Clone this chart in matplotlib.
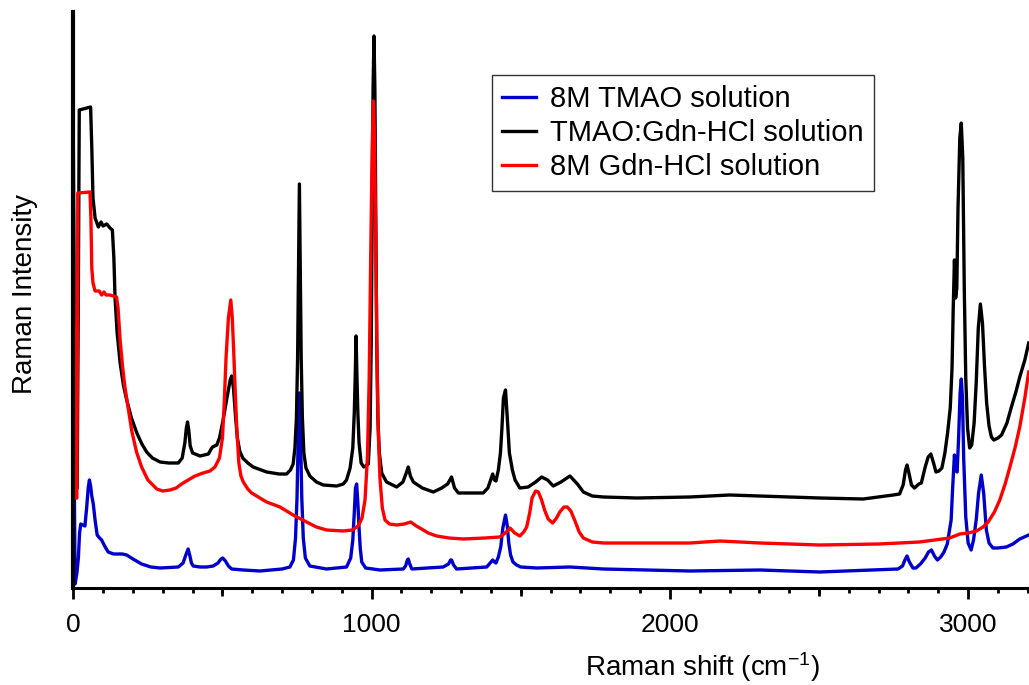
import matplotlib
matplotlib.use("Agg")
import matplotlib.pyplot as plt
from matplotlib.ticker import FixedLocator, MultipleLocator, NullFormatter

plt.rcParams['font.family'] = ['Liberation Sans', 'DejaVu Sans']
plt.rcParams['mathtext.default'] = 'regular'

# 8M TMAO solution (blue)
tmao_x = [0, 3, 6, 12, 17, 21, 25, 32, 39, 45, 50, 54, 58, 62, 67, 73, 80, 88, 95, 105, 117, 135,
          151, 165, 179, 200, 229, 260, 291, 352, 368, 376, 385, 391, 396, 402, 425, 447, 469, 485,
          495, 501, 510, 520, 531, 570, 626, 700, 726, 738, 745, 750, 754, 758, 762, 766, 771, 778,
          793, 849, 916, 930, 937, 942, 946, 950, 954, 958, 962, 967, 980, 1028, 1106, 1114, 1120,
          1123, 1128, 1135, 1240, 1258, 1265, 1268, 1275, 1285, 1386, 1400, 1406, 1412, 1417, 1425,
          1433, 1440, 1449, 1455, 1460, 1466, 1474, 1486, 1500, 1553, 1665, 1777, 2067, 2302, 2502,
          2765, 2780, 2788, 2795, 2803, 2815, 2825, 2840, 2856, 2867, 2877, 2887, 2897, 2908, 2919,
          2930, 2943, 2948, 2954, 2958, 2963, 2968, 2973, 2977, 2981, 2985, 2992, 3000, 3010, 3018,
          3027, 3035, 3044, 3052, 3061, 3070, 3083, 3100, 3128, 3150, 3173, 3203]
tmao_y = [299, 120, 4, 15, 30, 55, 64, 63, 62, 81, 100, 108, 102, 92, 84, 68, 53, 50, 48, 42, 36, 34,
          34, 34, 33, 29, 24, 21, 20, 21, 25, 32, 39, 32, 25, 22, 21, 21, 22, 25,
          29, 30, 27, 22, 19, 18, 17, 19, 21, 28, 50, 90, 150, 195, 150, 90, 50, 30,
          22, 19, 21, 30, 48, 75, 100, 104, 85, 60, 40, 26, 20, 18, 19, 22, 28,
          29, 24, 19, 21, 24, 28, 28, 23, 19, 21, 26, 28, 26, 25, 31,
          41, 60, 73, 62, 45, 33, 26, 23, 21, 20, 21, 19, 17, 18, 16,
          19, 22, 28, 32, 26, 20, 20, 24, 30, 36, 38, 32, 28, 31, 36,
          44, 68, 100, 133, 118, 116, 150, 195, 209, 190, 130, 71, 45, 38, 48,
          68, 95, 113, 95, 58, 45, 40, 40, 41, 44, 49, 53]

# TMAO:Gdn-HCl solution (black)
mix_x = [0, 3, 5, 13, 17, 20, 58, 62, 66, 73, 84, 93, 100, 112, 123, 131, 136, 140, 147, 157, 168,
         179, 195, 213, 230, 246, 265, 291, 320, 352, 365, 374, 379, 383, 387, 392, 400, 425, 453,
         462, 467, 481, 490, 501, 515, 526, 531, 537, 543, 550, 558, 568, 585, 603, 648, 690, 715,
         728, 737, 743, 748, 752, 755, 758, 761, 764, 768, 773, 780, 793, 815, 838, 883, 905, 916,
         928, 937, 942, 945, 948, 951, 954, 958, 965, 974, 980, 989, 995, 999, 1002, 1005, 1008,
         1011, 1014, 1017, 1021, 1026, 1034, 1050, 1084, 1105, 1115, 1123, 1130, 1140, 1170, 1207,
         1235, 1255, 1268, 1278, 1291, 1374, 1390, 1397, 1406, 1412, 1417, 1425, 1432, 1437, 1442,
         1449, 1455, 1462, 1472, 1481, 1497, 1525, 1550, 1570, 1590, 1609, 1635, 1665, 1690, 1710,
         1740, 1777, 1889, 2067, 2200, 2302, 2502, 2648, 2749, 2770, 2782, 2790, 2795, 2800, 2810,
         2820, 2835, 2843, 2856, 2866, 2875, 2884, 2892, 2902, 2912, 2922, 2931, 2940, 2946, 2950,
         2954, 2958, 2962, 2966, 2972, 2977, 2982, 2987, 2992, 2998, 3005, 3012, 3020, 3027, 3034,
         3041, 3048, 3055, 3062, 3070, 3078, 3086, 3100, 3112, 3130, 3145, 3160, 3173, 3190, 3203]
mix_y = [450, 300, 100, 100, 300, 478, 481, 440, 390, 370, 361, 366, 362, 364, 360, 358, 330, 290, 255, 225, 203,
         188, 170, 155, 144, 136, 130, 126, 125, 125, 130, 145, 160, 166, 158, 142, 135, 132, 134,
         139, 141, 143, 150, 166, 190, 208, 212, 200, 175, 150, 137, 130, 125, 121, 116, 114, 114,
         118, 124, 140, 170, 230, 320, 404, 320, 230, 170, 135, 120, 112, 106, 103, 102, 104, 108,
         120, 140, 175, 210, 252, 210, 175, 145, 125, 121, 122, 124, 160, 250, 370, 500, 552,
         500, 370, 250, 170, 135, 115, 106, 101, 106, 114, 121, 112, 106, 100, 96,
         100, 104, 111, 100, 95, 95, 100, 106, 114, 108, 107, 118, 135, 160, 190,
         198, 170, 135, 118, 108, 100, 101, 106, 111, 108, 102, 106, 112, 104, 96,
         92, 91, 90, 91, 93, 92, 90, 89, 93, 94, 103, 118, 123, 117, 103,
         100, 104, 105, 121, 131, 134, 125, 116, 117, 120, 135, 155, 180, 220, 280,
         328, 290, 300, 380, 450, 465, 430, 300, 210, 160, 140, 143, 165, 205, 260,
         284, 265, 221, 185, 162, 151, 148, 150, 153, 165, 181, 196, 211, 228, 245]

# 8M Gdn-HCl solution (red)
gdn_x = [0, 3, 5, 12, 14, 15, 56, 59, 62, 66, 73, 87, 95, 103, 110, 123, 145, 150, 157, 165, 173,
         185, 196, 212, 229, 250, 280, 300, 324, 345, 363, 385, 408, 435, 458, 475, 490, 500, 506,
         512, 520, 528, 533, 538, 543, 548, 555, 562, 570, 585, 598, 620, 648, 693, 737, 782, 815,
         849, 905, 935, 955, 968, 978, 986, 992, 997, 1002, 1006, 1010, 1014, 1018, 1022, 1028,
         1036, 1045, 1060, 1084, 1110, 1131, 1150, 1162, 1190, 1218, 1260, 1307, 1380, 1430, 1448,
         1464, 1480, 1497, 1510, 1520, 1530, 1538, 1550, 1559, 1570, 1580, 1592, 1607, 1620, 1631,
         1645, 1656, 1668, 1682, 1696, 1710, 1740, 1777, 2067, 2168, 2302, 2502, 2700, 2837, 2938,
         2972, 3000, 3028, 3050, 3067, 3088, 3106, 3124, 3140, 3157, 3173, 3190, 3203]
gdn_y = [391, 250, 90, 90, 250, 395, 396, 370, 320, 305, 297, 297, 293, 296, 293, 293, 291, 280, 248, 222, 201,
         178, 157, 136, 121, 108, 99, 97, 98, 100, 104, 108, 112, 115, 117, 121, 130, 150, 185,
         230, 270, 288, 270, 235, 195, 160, 125, 112, 106, 99, 95, 91, 86, 81, 73, 66, 61,
         58, 57, 58, 62, 70, 88, 130, 210, 330, 440, 487, 450, 340, 240, 160, 110,
         80, 68, 64, 63, 64, 66, 62, 60, 55, 52, 50, 49, 50, 51, 55,
         60, 55, 52, 56, 61, 75, 90, 97, 96, 88, 78, 69, 65, 70, 76,
         81, 81, 77, 67, 56, 50, 46, 45, 45, 47, 45, 43, 44, 46, 50,
         54, 55, 57, 61, 66, 76, 88, 104, 121, 140, 161, 190, 216]

fig = plt.figure(figsize=(10.29, 6.85), dpi=100)
ax = fig.add_axes([73.3 / 1029, 97 / 685, 955.7 / 1029, 576 / 685])

ax.plot(tmao_x, tmao_y, color='#0000CC', lw=2.4, label='8M TMAO solution')
ax.plot(mix_x, mix_y, color='black', lw=2.4, label='TMAO:Gdn-HCl solution')
ax.plot(gdn_x, gdn_y, color='#FF0000', lw=2.4, label='8M Gdn-HCl solution')

ax.set_xlim(0, 3204)
ax.set_ylim(0, 576)

ax.spines['top'].set_visible(False)
ax.spines['right'].set_visible(False)
ax.spines['left'].set_linewidth(3)
ax.spines['bottom'].set_linewidth(2.2)

ax.set_yticks([])
ax.xaxis.set_major_locator(FixedLocator([0, 1000, 2000, 3000]))
ax.xaxis.set_minor_locator(MultipleLocator(100))
ax.tick_params(axis='x', which='major', length=8, width=2, labelsize=19, pad=10)
ax.tick_params(axis='x', which='minor', length=3.8, width=2)

# mid ticks at the 500s
sec = ax.secondary_xaxis('bottom')
sec.set_xticks([500, 1500, 2500])
sec.xaxis.set_major_formatter(NullFormatter())
sec.tick_params(length=6, width=2)
sec.spines['bottom'].set_visible(False)

ax.set_xlabel('Raman shift (cm$^{-1}$)', fontsize=20)
ax.xaxis.set_label_coords(0.658, -0.108)
ax.set_ylabel('Raman Intensity', fontsize=20)
ax.yaxis.set_label_coords(-0.037, 0.51)

leg = ax.legend(loc='upper left', bbox_to_anchor=(0.438, 0.8906), borderaxespad=0,
                fontsize=21, frameon=True, fancybox=False, edgecolor='#333333',
                framealpha=1, handlelength=1.15, handletextpad=0.5, labelspacing=0.2,
                borderpad=0.35)
leg.get_frame().set_linewidth(1)

fig.savefig('out.png', dpi=100)
